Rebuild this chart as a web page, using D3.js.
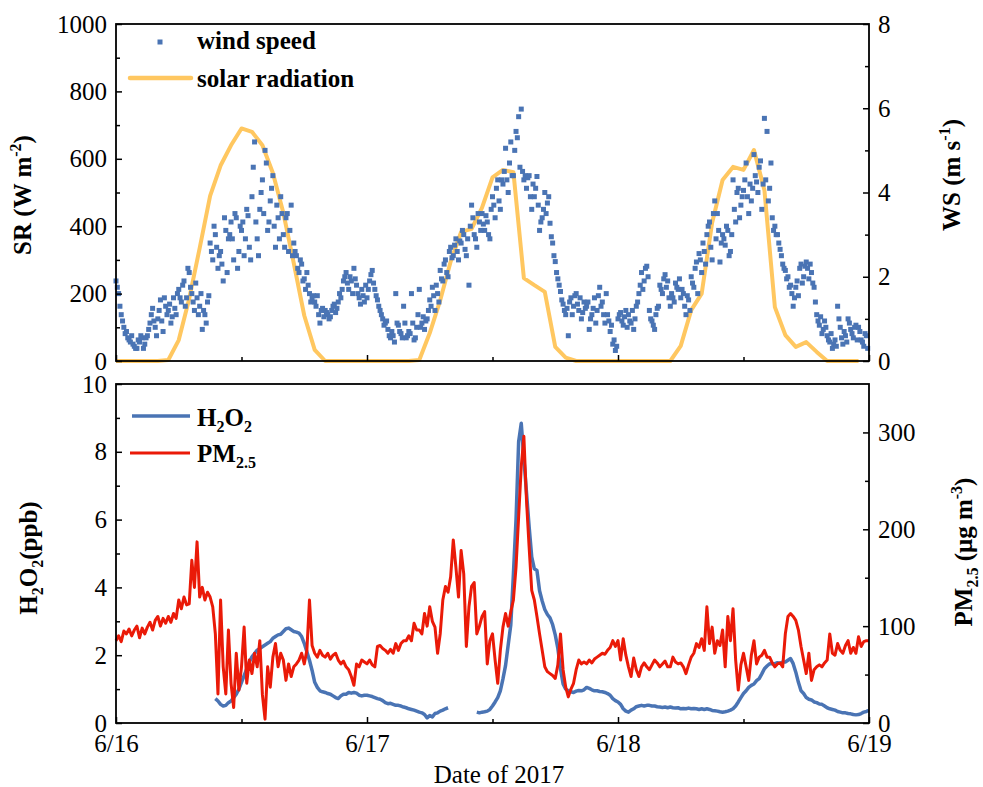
<!DOCTYPE html>
<html>
<head>
<meta charset="utf-8">
<script src="https://cdn.jsdelivr.net/npm/d3@7"></script>
<style>
body { margin: 0; background: #fff; }
text { font-family: "Liberation Serif", "Times New Roman", serif; fill: #000; }
</style>
</head>
<body>
<div id="chart"></div>
<script>
// hourly solar radiation, W m-2, 6/16 00:00 .. 6/18 23:00
const srHourly = [
  0,0,0,0,0,3,62,185,335,490,580,640,690,680,640,558,440,290,135,33,0,0,0,0,
  0,0,0,0,0,3,83,180,295,383,392,455,545,567,560,246,225,205,42,10,0,0,0,0,
  0,0,0,0,0,0,45,151,200,410,537,576,567,626,507,160,77,42,56,27,0,0,0,0
];

// wind speed every 15 min (on the quarter hour), m s-1
const wsDay1 = [
  1.9,1.6,1.1,0.8, 0.7,0.5,0.6,0.35, 0.3,0.45,0.55,0.4, 0.6,0.9,1.25,0.8,
  1.0,1.45,0.7,1.3, 1.2,0.9,1.5,1.1, 1.7,1.4,1.9,1.5, 2.1,1.6,1.2,1.5,
  1.3,0.75,1.1,1.4, 2.8,2.4,3.0,2.2, 2.6,1.9,3.1,2.9, 3.3,2.4,3.4,2.6,
  3.1,2.5,3.6,2.7, 3.9,5.2,2.9,3.6, 4.3,5.0,3.1,3.8, 4.4,2.7,3.4,3.9,
  3.0,3.4,2.6,3.7, 2.8,2.5,2.1,2.3, 1.95,2.1,1.6,1.5, 1.4,1.55,0.9,1.25,
  1.2,1.1,1.05,1.3, 1.15,1.4,1.5,1.9, 2.1,1.7,1.9,2.2, 1.8,1.5,1.7,1.4
];
const wsDay2 = [
  1.5,1.9,2.15,1.7, 1.45,1.2,1.0,0.9, 0.75,0.55,0.6,1.6, 0.85,0.65,1.3,0.55,
  0.7,1.6,0.5,0.8, 1.7,0.9,0.75,1.0, 1.45,1.75,1.2,1.6, 2.15,1.9,2.4,2.0,
  2.7,2.5,2.9,2.4, 2.8,3.0,2.5,1.8, 3.7,3.0,2.7,3.3, 3.5,3.1,3.3,2.9,
  3.9,3.4,4.3,3.6, 4.2,5.05,4.0,5.2, 4.4,5.45,5.8,5.98, 4.3,4.1,4.4,3.6,
  3.9,4.38,3.1,3.4, 4.0,3.75,3.27,2.8, 2.36,1.95,1.65,1.35, 1.1,0.6,1.5,1.3,
  1.6,1.2,1.0,1.4, 1.3,0.75,1.1,1.5, 1.2,1.75,1.4,0.9, 1.1,0.7,0.4,0.25
];
const wsDay3 = [
  1.0,1.15,0.85,1.2, 1.1,0.9,0.75,1.3, 1.6,2.1,1.9,2.25, 1.2,0.95,0.75,1.25,
  1.8,1.6,2.05,1.9, 1.3,1.5,1.85,1.7, 1.5,1.6,1.1,1.45, 2.0,1.75,2.35,2.55,
  2.1,2.6,3.0,3.3, 2.4,3.8,3.5,2.35, 3.0,2.75,3.1,2.6, 4.3,3.3,4.1,3.7,
  4.05,4.7,3.5,3.8, 4.9,4.25,4.6,3.6, 5.76,5.45,4.1,3.4, 3.2,3.0,2.65,2.3,
  2.15,2.0,1.8,1.3, 1.75,1.55,2.3,2.0, 2.35,1.95,2.1,1.75, 1.1,0.85,0.65,0.95,
  0.6,0.45,0.3,0.5, 1.3,0.8,0.4,0.6, 1.0,0.75,0.55,0.85, 0.8,0.5,0.35,0.6
];
// wind speed between the quarter hours (:07.5, :22.5, :37.5, :52.5)
const wsMidDay1 = [
  1.75,1.3,0.95,0.65, 0.55,0.45,0.4,0.3, 0.5,0.6,0.3,0.55, 0.75,1.1,0.95,0.6,
  1.2,0.95,1.5,1.1, 1.35,1.05,1.25,1.6, 1.5,1.8,1.3,2.2, 1.75,1.4,1.85,1.1,
  1.6,1.2,0.9,1.55, 2.6,3.2,2.7,2.5, 2.3,3.4,2.1,3.0, 2.9,3.5,2.2,3.2,
  3.3,2.9,3.45,2.4, 4.6,3.3,2.5,4.0, 3.5,4.7,3.3,4.1, 3.2,3.7,2.9,3.5,
  2.7,3.5,3.1,2.5, 2.6,2.2,2.4,1.9, 1.7,1.8,1.4,1.55, 1.3,1.1,1.2,1.05,
  1.15,1.0,1.2,1.35, 1.25,1.6,1.7,2.0, 1.85,2.0,1.6,1.95, 1.6,1.35,1.55,1.8
];
const wsMidDay2 = [
  1.7,2.05,1.85,1.55, 1.3,1.1,0.85,0.95, 0.6,0.7,0.45,0.9, 0.7,0.55,0.9,0.6,
  0.65,0.9,0.55,1.1, 0.8,1.05,0.95,1.2, 1.3,1.55,1.8,1.4, 1.95,2.3,2.1,2.6,
  2.45,2.75,2.6,2.85, 3.1,2.65,2.9,3.2, 3.4,2.9,3.5,3.1, 3.25,3.45,3.0,3.6,
  3.7,4.1,3.8,4.3, 4.5,4.3,4.7,4.4, 5.0,5.3,4.6,4.5, 4.4,4.35,3.9,4.2,
  4.1,3.7,3.3,3.6, 3.5,3.9,2.95,2.5, 2.1,1.8,1.45,1.2, 1.25,1.4,1.1,1.55,
  1.35,1.5,1.15,1.25, 1.4,1.0,1.25,0.9, 1.55,1.3,1.1,1.6, 0.95,0.85,0.5,0.35
];
const wsMidDay3 = [
  1.1,0.95,1.05,0.8, 0.95,1.2,1.0,1.4, 1.8,1.7,2.2,2.0, 1.0,0.85,1.1,1.3,
  1.7,1.95,1.75,1.5, 1.6,1.4,1.75,1.95, 1.7,1.3,1.55,1.2, 1.85,2.2,1.6,2.4,
  2.8,2.3,3.2,2.7, 3.5,2.9,3.1,2.8, 2.9,3.2,2.5,3.0, 3.6,4.0,3.4,3.9,
  4.3,3.9,4.2,4.1, 4.4,4.0,4.75,4.2, 4.3,3.8,4.7,3.1, 3.0,2.8,2.5,2.2,
  1.95,1.75,1.6,1.5, 1.9,2.2,1.85,2.25, 2.2,2.3,1.85,1.4, 0.95,1.05,0.75,0.8,
  0.5,0.65,0.4,0.35, 1.0,0.55,0.7,0.45, 0.9,0.65,0.8,0.5, 0.7,0.45,0.65,0.3
];

// H2O2 every 15 min, ppb (null = no data)
const h2o2Day1 = [
  null,null,null,null, null,null,null,null, null,null,null,null, null,null,null,null,
  null,null,null,null, null,null,null,null, null,null,null,null, null,null,null,null,
  null,null,null,null, null,null,0.72,0.65, 0.55,0.5,0.52,0.6, 0.65,0.75,0.85,1.0,
  1.2,1.4,1.6,1.8, 1.95,2.05,2.15,2.2, 2.25,2.3,2.35,2.4, 2.5,2.55,2.6,2.62,
  2.7,2.78,2.8,2.75, 2.7,2.68,2.65,2.55, 2.35,2.1,1.85,1.55, 1.2,1.05,0.95,0.92,
  0.9,0.87,0.85,0.8, 0.75,0.72,0.8,0.85, 0.85,0.9,0.88,0.9, 0.88,0.82,0.8,0.82
];
const h2o2Day2 = [
  0.82,0.8,0.78,0.75, 0.72,0.7,0.66,0.6, 0.57,0.58,0.55,0.52, 0.52,0.5,0.47,0.45,
  0.42,0.4,0.38,0.35, 0.32,0.3,0.25,0.15, 0.22,0.18,0.28,0.3, 0.35,0.38,0.42,0.45,
  null,null,null,null, null,null,null,null, null,null,0.32,0.3, 0.32,0.33,0.35,0.4,
  0.5,0.62,0.75,0.95, 1.3,1.7,2.3,2.9, 4.4,6.0,8.3,8.84, 7.8,6.8,5.8,4.9,
  4.55,4.5,3.9,3.6, 3.35,3.2,3.1,2.9, 2.6,2.2,1.6,1.15, 1.0,0.95,0.92,0.9,
  0.94,0.96,0.95,0.98, 1.05,1.02,0.98,0.95, 0.95,0.93,0.92,0.9, 0.87,0.82,0.72,0.66
];
const h2o2Day3 = [
  0.62,0.55,0.42,0.35, 0.32,0.38,0.42,0.48, 0.5,0.52,0.5,0.52, 0.52,0.5,0.5,0.48,
  0.47,0.46,0.47,0.45, 0.47,0.45,0.44,0.45, 0.42,0.43,0.42,0.44, 0.42,0.43,0.42,0.4,
  0.42,0.4,0.42,0.4, 0.37,0.36,0.35,0.33, 0.32,0.33,0.35,0.38, 0.42,0.5,0.62,0.75,
  0.87,0.95,1.05,1.11, 1.15,1.25,1.31,1.45, 1.6,1.68,1.75,1.75, 1.75,1.78,1.76,1.8,
  1.8,1.85,1.9,1.75, 1.5,1.2,0.95,0.87, 0.75,0.7,0.68,0.62, 0.6,0.56,0.55,0.5,
  0.45,0.42,0.4,0.38, 0.34,0.32,0.3,0.3, 0.28,0.27,0.25,0.24, 0.25,0.28,0.32,0.34,
  0.37
];

// PM2.5 every 15 min, ug m-3
const pmDay1 = [
  85,90,84,95, 92,97,90,96, 100,88,98,92, 99,104,96,106,
  110,100,108,103, 110,104,113,108, 127,118,130,122, 123,168,140,187,
  130,140,127,135, 130,120,92,30, 127,58,30,96, 41,16,72,34,
  58,99,41,65, 51,72,58,85, 29,4,58,37, 68,82,58,72,
  65,44,61,48, 58,61,65,72, 61,75,127,80, 72,68,75,70,
  68,72,66,70, 72,65,61,64, 58,55,48,39, 61,58,65,63
];
const pmDay2 = [
  61,65,60,58, 79,80,77,75, 72,76,72,82, 75,82,85,85,
  90,85,103,96, 96,92,113,100, 120,105,99,72, 92,127,141,135,
  151,189,161,130, 178,154,79,120, 141,145,92,100, 110,115,61,85,
  92,65,41,75, 99,113,100,115, 127,161,213,265, 296,230,182,137,
  127,110,92,75, 58,53,51,49, 46,60,92,55, 37,27,35,41,
  55,65,61,63, 61,65,62,66, 68,70,72,71, 75,78,85,79
];
const pmDay3 = [
  85,65,87,70, 58,48,67,55, 48,58,62,58, 55,60,65,62,
  58,61,64,58, 58,68,63,61, 62,58,51,60, 68,72,82,78,
  87,75,120,82, 99,72,85,80, 96,58,110,85, 118,65,34,60,
  72,58,44,70, 85,61,68,70, 75,68,68,62, 58,61,62,58,
  92,110,113,110, 106,96,79,65, 51,72,44,55, 58,60,58,62,
  65,92,72,70, 82,75,72,80, 85,72,78,72, 89,79,84,85,
  85
];

const dayLabels = ['6/16', '6/17', '6/18', '6/19'];
const srTicks = [0, 200, 400, 600, 800, 1000];
const wsTicks = [0, 2, 4, 6, 8];
const h2o2Ticks = [0, 2, 4, 6, 8, 10];
const pmTicks = [0, 100, 200, 300];

const windSpeed = wsDay1.concat(wsDay2, wsDay3).map((v, i) => ({t: i * 0.25, v}))
  .concat(wsMidDay1.concat(wsMidDay2, wsMidDay3).map((v, i) => ({t: i * 0.25 + 0.125, v})));
const h2o2 = h2o2Day1.concat(h2o2Day2, h2o2Day3);
const pm25 = pmDay1.concat(pmDay2, pmDay3);

const width = 983, height = 787;
const left = 116, right = 869;
const top1 = 24, bot1 = 361, top2 = 384, bot2 = 723;
const fontSize = 25;
const blue = '#4a74b4', orange = '#ffc760', red = '#ea1a08';

const svg = d3.select('#chart')
  .append('svg')
  .attr('width', width)
  .attr('height', height);

const x = d3.scaleLinear().domain([0, 72]).range([left, right]);
const ySR = d3.scaleLinear().domain([0, 1000]).range([bot1, top1]);
const yWS = d3.scaleLinear().domain([0, 8]).range([bot1, top1]);
const yH = d3.scaleLinear().domain([0, 10]).range([bot2, top2]);
const yPM = d3.scaleLinear().domain([0, 350]).range([bot2, top2]);

// ---- top panel: solar radiation + wind speed
svg.append('path')
  .datum(srHourly)
  .attr('fill', 'none')
  .attr('stroke', orange)
  .attr('stroke-width', 4)
  .attr('stroke-linejoin', 'round')
  .attr('d', d3.line().x((d, i) => x(i)).y(d => ySR(d)));

svg.append('g')
  .selectAll('rect')
  .data(windSpeed)
  .join('rect')
  .attr('x', d => x(d.t) - 2.5)
  .attr('y', d => yWS(d.v) - 2.5)
  .attr('width', 5)
  .attr('height', 5)
  .attr('fill', blue);

// ---- bottom panel: H2O2 + PM2.5
svg.append('path')
  .datum(h2o2)
  .attr('fill', 'none')
  .attr('stroke', blue)
  .attr('stroke-width', 3.5)
  .attr('stroke-linejoin', 'round')
  .attr('d', d3.line().defined(d => d != null).x((d, i) => x(i * 0.25)).y(d => yH(d)));

svg.append('path')
  .datum(pm25)
  .attr('fill', 'none')
  .attr('stroke', red)
  .attr('stroke-width', 3)
  .attr('stroke-linejoin', 'round')
  .attr('d', d3.line().x((d, i) => x(i * 0.25)).y(d => yPM(d)));

// ---- axes
function styleAxis(g) {
  g.select('.domain').remove();
  g.selectAll('.tick line').attr('stroke', '#000').attr('stroke-width', 1.5);
  g.selectAll('.tick text')
    .attr('font-family', '"Liberation Serif", "Times New Roman", serif')
    .attr('font-size', fontSize)
    .attr('fill', '#000');
}

function minorValues(ticks) {
  const out = [];
  for (let i = 0; i < ticks.length - 1; i++) out.push((ticks[i] + ticks[i + 1]) / 2);
  return out;
}

function leftAxis(scale, major, minor) {
  svg.append('g').attr('transform', `translate(${left},0)`)
    .call(d3.axisLeft(scale).tickValues(major).tickSize(-6).tickPadding(9).tickFormat(d3.format('d')))
    .call(styleAxis);
  svg.append('g').attr('transform', `translate(${left},0)`)
    .call(d3.axisLeft(scale).tickValues(minor).tickSize(-4).tickFormat(''))
    .call(styleAxis);
}

function rightAxis(scale, major, minor) {
  svg.append('g').attr('transform', `translate(${right},0)`)
    .call(d3.axisRight(scale).tickValues(major).tickSize(-6).tickPadding(9).tickFormat(d3.format('d')))
    .call(styleAxis);
  svg.append('g').attr('transform', `translate(${right},0)`)
    .call(d3.axisRight(scale).tickValues(minor).tickSize(-4).tickFormat(''))
    .call(styleAxis);
}

function bottomAxis(y0, withLabels) {
  svg.append('g').attr('transform', `translate(0,${y0})`)
    .call(d3.axisBottom(x).tickValues([0, 24, 48, 72]).tickSize(-6).tickPadding(11)
      .tickFormat((d, i) => withLabels ? dayLabels[i] : ''))
    .call(styleAxis);
  svg.append('g').attr('transform', `translate(0,${y0})`)
    .call(d3.axisBottom(x).tickValues([12, 36, 60]).tickSize(-4).tickFormat(''))
    .call(styleAxis);
}

leftAxis(ySR, srTicks, minorValues(srTicks));
rightAxis(yWS, wsTicks, minorValues(wsTicks));
bottomAxis(bot1, false);
leftAxis(yH, h2o2Ticks, minorValues(h2o2Ticks));
rightAxis(yPM, pmTicks, [50, 150, 250]);
bottomAxis(bot2, true);

// frames
[[top1, bot1], [top2, bot2]].forEach(([t, b]) => {
  svg.append('rect')
    .attr('x', left).attr('y', t)
    .attr('width', right - left).attr('height', b - t)
    .attr('fill', 'none').attr('stroke', '#000').attr('stroke-width', 1.8);
});

// ---- axis titles
function title(tx, ty, rot, parts, weight) {
  const t = svg.append('text')
    .attr('transform', `translate(${tx},${ty}) rotate(${rot})`)
    .attr('text-anchor', 'middle')
    .attr('font-size', fontSize)
    .attr('font-weight', weight);
  parts.forEach(p => {
    const s = t.append('tspan').text(p.t);
    if (p.sub) s.attr('font-size', 16).attr('dy', 6);
    if (p.sup) s.attr('font-size', 16).attr('dy', -10);
    if (p.back) s.attr('dy', p.back);
  });
}

title(31, 195, -90, [{t: 'SR (W m'}, {t: '-2', sup: true}, {t: ')', back: 10}], 'bold');
title(960, 175, -90, [{t: 'WS (m s'}, {t: '-1', sup: true}, {t: ')', back: 10}], 'bold');
title(37, 558, -90, [{t: 'H'}, {t: '2', sub: true}, {t: 'O', back: -6}, {t: '2', sub: true}, {t: '(ppb)', back: -6}], 'bold');
title(972, 552, -90, [{t: 'PM'}, {t: '2.5', sub: true}, {t: ' (μg m', back: -6}, {t: '-3', sup: true}, {t: ')', back: 10}], 'bold');

svg.append('text')
  .attr('x', 499).attr('y', 783)
  .attr('text-anchor', 'middle')
  .attr('font-size', fontSize)
  .text('Date of 2017');

// ---- legends
svg.append('rect')
  .attr('x', 157.5).attr('y', 39.5).attr('width', 5).attr('height', 5)
  .attr('fill', blue);
svg.append('text').attr('x', 197).attr('y', 49)
  .attr('font-size', fontSize).attr('font-weight', 'bold')
  .text('wind speed');
svg.append('line')
  .attr('x1', 130).attr('x2', 191).attr('y1', 78).attr('y2', 78)
  .attr('stroke', orange).attr('stroke-width', 4.5).attr('stroke-linecap', 'round');
svg.append('text').attr('x', 197).attr('y', 87)
  .attr('font-size', fontSize).attr('font-weight', 'bold')
  .text('solar radiation');

svg.append('line')
  .attr('x1', 132).attr('x2', 190).attr('y1', 416).attr('y2', 416)
  .attr('stroke', blue).attr('stroke-width', 3.5);
const lh = svg.append('text').attr('x', 197).attr('y', 426)
  .attr('font-size', fontSize).attr('font-weight', 'bold');
lh.append('tspan').text('H');
lh.append('tspan').text('2').attr('font-size', 16).attr('dy', 6);
lh.append('tspan').text('O').attr('dy', -6);
lh.append('tspan').text('2').attr('font-size', 16).attr('dy', 6);

svg.append('line')
  .attr('x1', 130).attr('x2', 190).attr('y1', 453).attr('y2', 453)
  .attr('stroke', red).attr('stroke-width', 3);
const lp = svg.append('text').attr('x', 197).attr('y', 462)
  .attr('font-size', fontSize).attr('font-weight', 'bold');
lp.append('tspan').text('PM');
lp.append('tspan').text('2.5').attr('font-size', 16).attr('dy', 6);
</script>
</body>
</html>
